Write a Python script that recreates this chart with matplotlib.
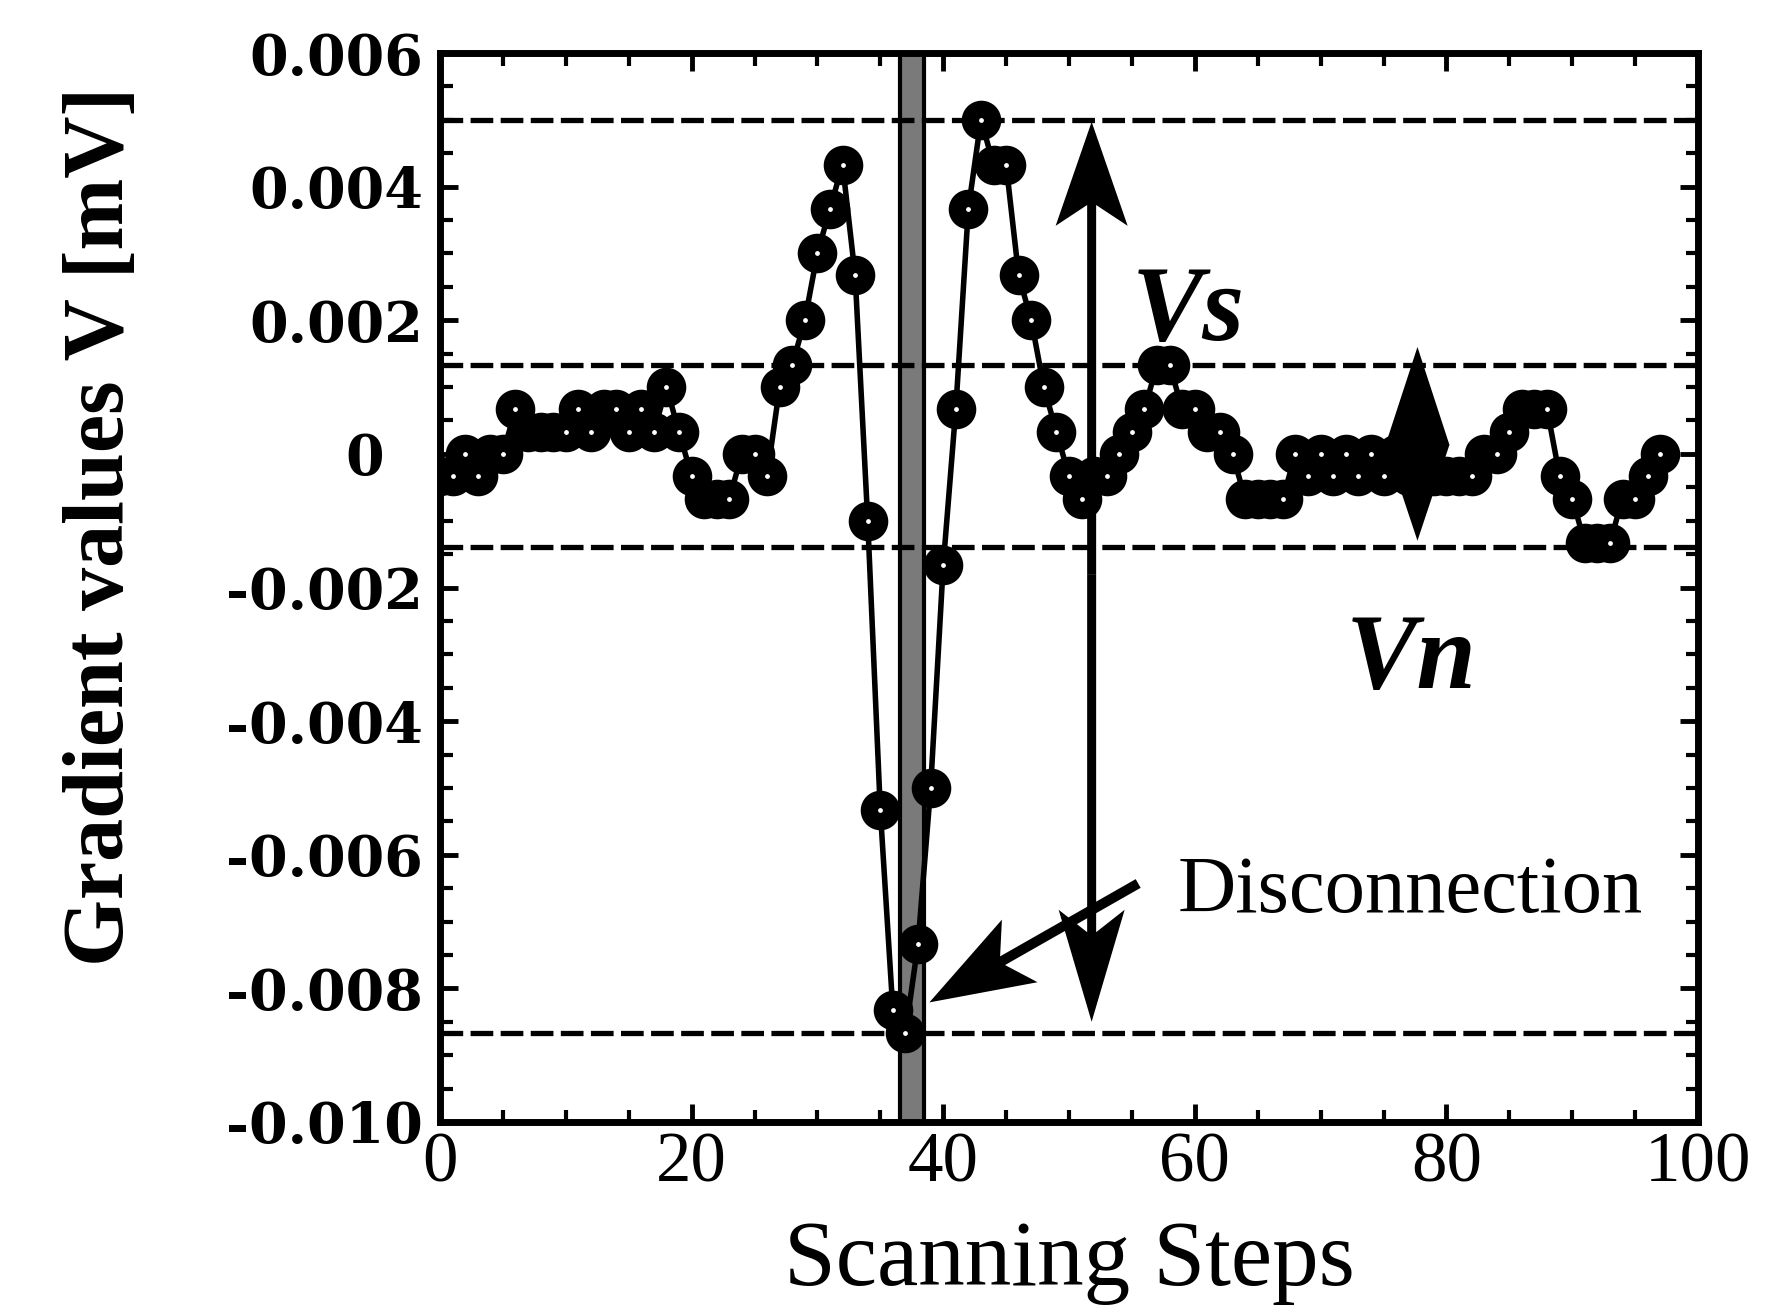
import matplotlib
matplotlib.use("Agg")
import matplotlib.pyplot as plt
import matplotlib.patches as mpatches
from matplotlib.transforms import IdentityTransform
from matplotlib.ticker import MultipleLocator
import numpy as np

# data (gradient value per scanning step, mV)
steps = list(range(0, 98))
grad = [
    -0.00033, -0.00033, 0.0, -0.00033, 0.0, 0.0, 0.00067, 0.00033, 0.00033, 0.00033,
    0.00033, 0.00067, 0.00033, 0.00067, 0.00067, 0.00033, 0.00067, 0.00033, 0.001, 0.00033,
    -0.00033, -0.00067, -0.00067, -0.00067, 0.0, 0.0, -0.00033, 0.001, 0.00133, 0.002,
    0.003, 0.00367, 0.00433, 0.00267, -0.001, -0.00533, -0.00833, -0.00867, -0.00733, -0.005,
    -0.00167, 0.00067, 0.00367, 0.005, 0.00433, 0.00433, 0.00267, 0.002, 0.001, 0.00033,
    -0.00033, -0.00067, -0.00033, -0.00033, 0.0, 0.00033, 0.00067, 0.00133, 0.00133, 0.00067,
    0.00067, 0.00033, 0.00033, 0.0, -0.00067, -0.00067, -0.00067, -0.00067, 0.0, -0.00033,
    0.0, -0.00033, 0.0, -0.00033, 0.0, -0.00033, 0.0, -0.00033, 0.0, -0.00033,
    -0.00033, -0.00033, -0.00033, 0.0, 0.0, 0.00033, 0.00067, 0.00067, 0.00067, -0.00033,
    -0.00067, -0.00133, -0.00133, -0.00133, -0.00067, -0.00067, -0.00033, 0.0,
]

# horizontal reference levels (dashed)
levels = [0.005, 0.00133, -0.0014, -0.00867]
disconnect_step = 37.5
band_half = 0.95

xticks = [0, 20, 40, 60, 80, 100]
xticklabels = ["0", "20", "40", "60", "80", "100"]
yticks = [-0.010, -0.008, -0.006, -0.004, -0.002, 0.0, 0.002, 0.004, 0.006]
yticklabels = ["-0.010", "-0.008", "-0.006", "-0.004", "-0.002", "0  ",
               "0.002", "0.004", "0.006"]

W, H = 1766, 1314
fig = plt.figure(figsize=(W / 100, H / 100), dpi=100)
ax = fig.add_axes([440 / W, 1 - 1122 / H, (1698 - 440) / W, (1122 - 53) / H])
ax.set_xlim(0, 100)
ax.set_ylim(-0.010, 0.006)

# dashed threshold lines
for lv in levels:
    ax.axhline(lv, color="black", lw=3.8, dashes=(4.3, 1.4), zorder=2)

# disconnection band
ax.axvspan(disconnect_step - band_half, disconnect_step + band_half,
           facecolor="#7a7a7a", edgecolor="black", lw=3, zorder=1)

# data line
ax.plot(steps, grad, color="black", lw=4, marker="o", ms=16,
        mfc="white", mec="black", mew=12.5, zorder=3)

# axes styling
for sp in ax.spines.values():
    sp.set_linewidth(5)
ax.set_xticks(xticks)
ax.set_xticklabels(xticklabels, fontfamily="Liberation Serif", fontsize=51)
ax.set_yticks(yticks)
ax.set_yticklabels(yticklabels, fontfamily="DejaVu Serif", fontsize=40,
                   fontweight="bold")
ax.xaxis.set_minor_locator(MultipleLocator(5))
ax.yaxis.set_minor_locator(MultipleLocator(0.0005))
ax.tick_params(which="both", direction="in", top=True, right=True)
ax.tick_params(which="major", length=13, width=3.5)
ax.tick_params(which="minor", length=9, width=3)
ax.tick_params(axis="x", which="major", pad=7)
ax.tick_params(axis="y", which="major", pad=12)

ax.set_xlabel("Scanning Steps", fontfamily="Liberation Serif", fontsize=67)
ax.xaxis.set_label_coords(0.5, -0.092)
ax.set_ylabel("Gradient values V [mV]", fontfamily="Liberation Serif",
              fontsize=62, fontweight="bold")
ax.yaxis.set_label_coords(-0.237, 0.557)

# text annotations
ax.text(55.0, 0.0017, "Vs", fontfamily="Liberation Serif", fontsize=77,
        fontweight="bold", fontstyle="italic", va="baseline", zorder=5)
ax.text(72.0, -0.0035, "Vn", fontfamily="Liberation Serif", fontsize=77,
        fontweight="bold", fontstyle="italic", va="baseline", zorder=5)
ax.text(58.6, -0.00686, "Disconnection", fontfamily="Liberation Serif",
        fontsize=58, va="baseline", zorder=5)


def arrow_px(ax, start, tip, shaft_w, head_w, head_len, overhang):
    # draw a barbed arrow in pixel space so the head is not skewed
    p0 = ax.transData.transform(start)
    p1 = ax.transData.transform(tip)
    d = p1 - p0
    a = mpatches.FancyArrow(p0[0], p0[1], d[0], d[1], width=shaft_w,
                            head_width=head_w, head_length=head_len,
                            length_includes_head=True, overhang=overhang,
                            transform=IdentityTransform(), color="black",
                            lw=0, zorder=6, clip_on=False)
    fig.add_artist(a)


# Vs double arrow
vs_x, vs_mid = 51.8, -0.0018
arrow_px(ax, (vs_x, vs_mid), (vs_x, 0.00497), 9, 72, 104, 0.2)
arrow_px(ax, (vs_x, vs_mid), (vs_x, -0.0085), 9, 66, 112, 0.2)

# Vn double arrow (two heads back to back)
vn_x, vn_mid = 77.7, 0.00013
arrow_px(ax, (vn_x, vn_mid), (vn_x, 0.0016), 2, 64, 98, 0.0)
arrow_px(ax, (vn_x, vn_mid), (vn_x, -0.0013), 2, 64, 96, 0.0)

# Disconnection pointer
arrow_px(ax, (55.5, -0.00643), (38.9, -0.00821), 10, 72, 104, 0.19)

fig.savefig("out.png", dpi=100)
